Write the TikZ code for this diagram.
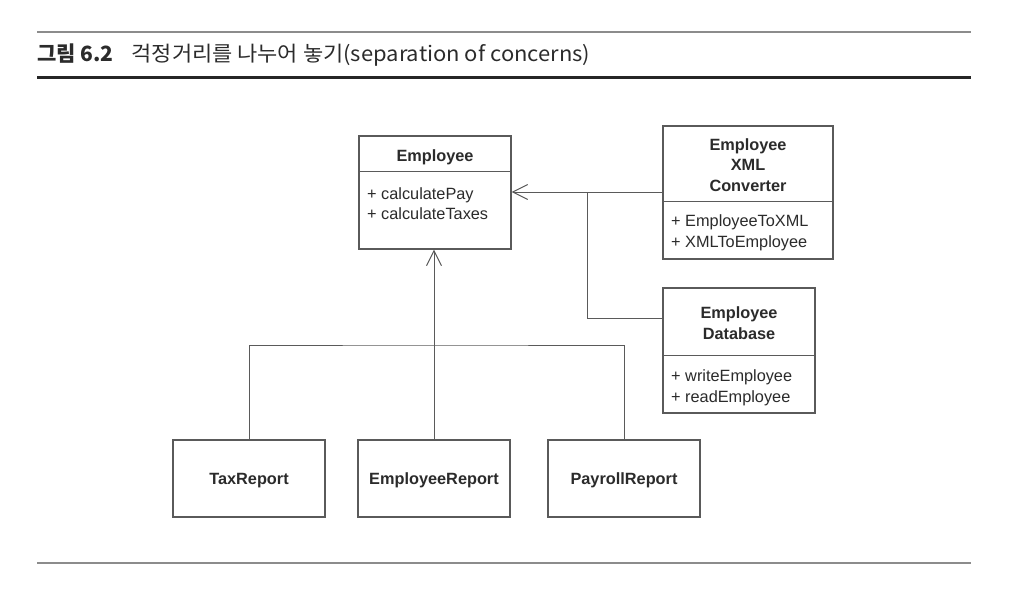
\documentclass[tikz,border=0pt]{standalone}
\usepackage{fontspec}
\setmainfont{Liberation Sans}
\newfontfamily\krfont{Noto Sans CJK KR}
\usepackage{xcolor}
\usetikzlibrary{arrows.meta}
\definecolor{linegray}{HTML}{5A5A5A}
\definecolor{rulegray}{HTML}{8C8C8C}
\definecolor{textgray}{HTML}{2B2B2B}

\tikzset{
    classbox/.style={draw=linegray, line width=1.1pt, fill=white, inner sep=0pt},
    classname/.style={font=\fontsize{16.3}{20.5}\selectfont\bfseries, text=textgray, align=center, inner sep=0pt},
    classops/.style={font=\fontsize{16.3}{20.5}\selectfont, text=textgray, align=left, inner sep=0pt, anchor=west},
    link/.style={draw=linegray, line width=1pt},
    uses/.style={link, -{Straight Barb[length=15pt,width=15pt,line width=1pt]}}
}

\begin{document}
\begin{tikzpicture}[x=1pt,y=-1pt]
            \useasboundingbox (0,0) rectangle (1010,594);

            % Define the title and the rules
            \draw[rulegray, line width=1.5pt] (37,32) -- (971,32);
            \draw[black!85, line width=3pt] (37,78) -- (971,78);
            \draw[rulegray, line width=2pt] (37,563) -- (971,563);
            \node[anchor=west, inner sep=0pt, text=textgray] (title) at (37,55)
                {\fontsize{21}{24}\selectfont\krfont{\bfseries 그림 6.2}\hspace{18pt}\scalebox{1.046}[1]{걱정거리를 나누어 놓기(separation of concerns)}};

            % Define the Employee class
            \node[classbox, minimum width=152pt, minimum height=113pt] (emp) at (435,192.5) {};
            \draw[link] ([yshift=-36pt]emp.north west) -- ([yshift=-36pt]emp.north east);
            \node[classname] (empname) at (435,157) {Employee};
            \node[classops] (empops) at (367,203.5) {+ calculatePay\\+ calculateTaxes};

            % Define the converter class
            \node[classbox, minimum width=170pt, minimum height=133pt] (conv) at (748,192.5) {};
            \draw[link] ([yshift=-76pt]conv.north west) -- ([yshift=-76pt]conv.north east);
            \node[classname] (convname) at (748,165) {Employee\\XML\\Converter};
            \node[classops] (convops) at (671,233) {+ EmployeeToXML\\+ XMLToEmployee};

            % Define the database class
            \node[classbox, minimum width=152pt, minimum height=125pt] (db) at (739,350.5) {};
            \draw[link] ([yshift=-68pt]db.north west) -- ([yshift=-68pt]db.north east);
            \node[classname] (dbname) at (739,323) {Employee\\Database};
            \node[classops] (dbops) at (671,388) {+ writeEmployee\\+ readEmployee};

            % Define the report classes
            \node[classbox, minimum width=152pt, minimum height=77pt] (taxrep) at (249,478.5) {};
            \node[classname] (taxname) at (249,480.5) {TaxReport};
            \node[classbox, minimum width=152pt, minimum height=77pt] (emprep) at (434,478.5) {};
            \node[classname] (emprepname) at (434,480.5) {EmployeeReport};
            \node[classbox, minimum width=152pt, minimum height=77pt] (payrep) at (624,478.5) {};
            \node[classname] (payname) at (624,480.5) {PayrollReport};

            % Add the dependencies on Employee
            \coordinate (split) at (434,345);
            \coordinate (dbjoin) at (587,192);
            \draw[link] (taxrep.north) |- (split) -| (payrep.north);
            \draw[uses] (emprep.north) -- (emprep.north |- emp.south);
            \draw[uses] (conv.west |- dbjoin) -- (dbjoin -| emp.east);
            \draw[link] ([yshift=-31pt]db.north west) -| (dbjoin);
        \end{tikzpicture}
\end{document}
